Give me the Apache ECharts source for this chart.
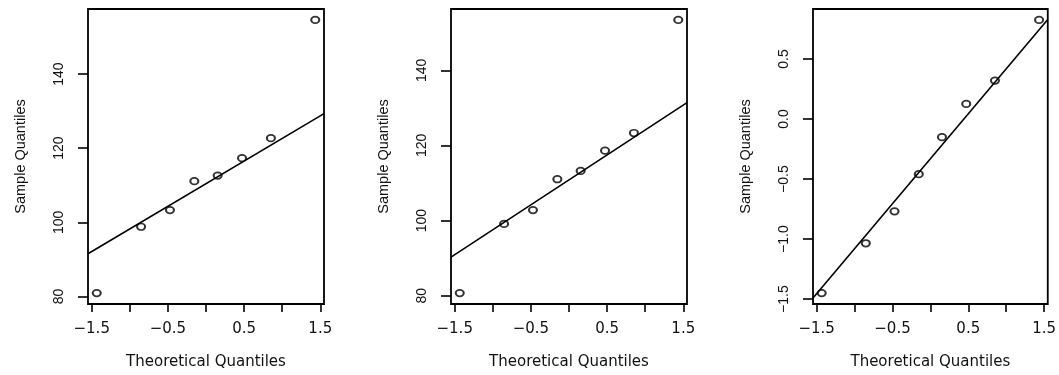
<!DOCTYPE html>
<html>
<head>
<meta charset="utf-8">
<script src="https://cdn.jsdelivr.net/npm/echarts@6/dist/echarts.min.js"></script>
<style>
html,body{margin:0;padding:0;background:#fff;}
#chart{width:1059px;height:375px;}
</style>
</head>
<body>
<div id="chart"></div>
<script>
// Theoretical normal quantiles (n = 8)
const theoretical = [-1.434, -0.852, -0.473, -0.153, 0.153, 0.473, 0.852, 1.434];
// Sample quantiles
const sample1 = [80.9, 98.8, 103.3, 111.1, 112.6, 117.3, 122.7, 154.6];
const sample2 = [80.7, 99.1, 102.8, 111.0, 113.2, 118.6, 123.3, 153.4];
const sample3 = [-1.450, -1.035, -0.769, -0.459, -0.151, 0.126, 0.321, 0.826];
// Tick values
const xTicks = [-1.5, -1.0, -0.5, 0.0, 0.5, 1.0, 1.5];
const xTickLabels = [-1.5, -0.5, 0.5, 1.5];
const yTicks1 = [80, 100, 120, 140];
const yTicks2 = [80, 100, 120, 140];
const yTicks3 = [-1.5, -1.0, -0.5, 0.0, 0.5];
const xTitle = 'Theoretical Quantiles';
const yTitle = 'Sample Quantiles';

const panels = [
  {y: sample1, ticks: yTicks1, dec: 0, left: 88},
  {y: sample2, ticks: yTicks2, dec: 0, left: 451},
  {y: sample3, ticks: yTicks3, dec: 1, left: 813}
];

function ext(arr) {
  const lo = Math.min(...arr), hi = Math.max(...arr), r = hi - lo;
  return [lo - 0.04 * r, hi + 0.04 * r];
}
function quant(sorted, p) {
  const h = (sorted.length - 1) * p, i = Math.floor(h);
  return sorted[i] + (h - i) * (sorted[i + 1] - sorted[i]);
}
function qqline(xs, ys) {
  const s = ys.slice().sort((a, b) => a - b);
  const y1 = quant(s, 0.25), y2 = quant(s, 0.75);
  const z = 0.6744898;
  const slope = (y2 - y1) / (2 * z);
  const icpt = y1 + slope * z;
  return [slope, icpt];
}
const fmt = (dec) => (v) => Number(v).toFixed(dec).replace('-', '\u2212');

const [xMin, xMax] = ext(theoretical);
const grids = [], xAxes = [], yAxes = [], series = [];
panels.forEach((p, i) => {
  grids.push({left: p.left, top: 9, width: 236, height: 298, show: true,
    borderColor: '#000', borderWidth: 1.8, backgroundColor: 'transparent'});
  xAxes.push({
    gridIndex: i, type: 'value', min: xMin, max: xMax, position: 'bottom',
    axisLine: {show: false, onZero: false}, splitLine: {show: false},
    axisTick: {show: true, length: 8, customValues: xTicks, lineStyle: {color: '#000', width: 1.6}},
    axisLabel: {customValues: xTickLabels, formatter: fmt(1), margin: 18,
      fontFamily: 'DejaVu Sans', fontSize: 15, color: '#111'},
    name: xTitle, nameLocation: 'middle', nameGap: 51,
    nameTextStyle: {fontFamily: 'DejaVu Sans', fontSize: 15, color: '#111'}
  });
  const [yMin, yMax] = ext(p.y);
  yAxes.push({
    gridIndex: i, type: 'value', min: yMin, max: yMax, position: 'left',
    axisLine: {show: false, onZero: false}, splitLine: {show: false},
    axisTick: {show: true, length: 10, customValues: p.ticks, lineStyle: {color: '#000', width: 1.6}},
    axisLabel: {customValues: p.ticks, formatter: fmt(p.dec), rotate: 90, margin: 22,
      fontFamily: 'Liberation Sans', fontSize: 14, color: '#111'},
    name: yTitle, nameLocation: 'middle', nameGap: 60, nameRotate: 90,
    nameTextStyle: {fontFamily: 'Liberation Sans', fontSize: 14.5, color: '#111'}
  });
  const [slope, icpt] = qqline(theoretical, p.y);
  series.push({
    type: 'line', xAxisIndex: i, yAxisIndex: i, silent: true,
    data: [[xMin, icpt + slope * xMin], [xMax, icpt + slope * xMax]],
    showSymbol: false, lineStyle: {color: '#000', width: 1.6}, clip: true, z: 2
  });
  series.push({
    type: 'scatter', xAxisIndex: i, yAxisIndex: i, silent: true,
    data: theoretical.map((x, k) => [x, p.y[k]]),
    symbol: 'circle', symbolSize: [8, 6.5],
    itemStyle: {color: 'rgba(0,0,0,0)', borderColor: '#000', borderWidth: 1.9}, z: 3
  });
});

const chart = echarts.init(document.getElementById('chart'), null, {renderer: 'canvas'});
chart.setOption({animation: false, backgroundColor: '#fff', grid: grids, xAxis: xAxes, yAxis: yAxes, series: series});
</script>
</body>
</html>
